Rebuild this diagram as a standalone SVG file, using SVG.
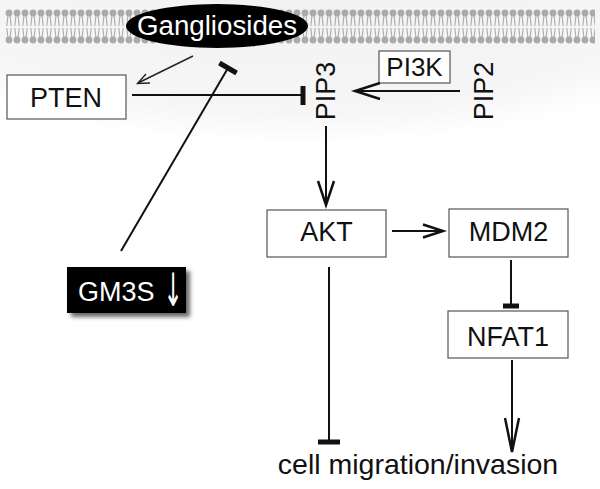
<svg xmlns="http://www.w3.org/2000/svg" width="600" height="489" viewBox="0 0 600 489">
<defs>
<style>
text{font-family:"Liberation Sans",Arial,sans-serif;font-size:27px;fill:#111}
.box{fill:#fff;stroke:#555;stroke-width:1.2}
.ln{stroke:#111;stroke-width:2;fill:none}
.bar{stroke:#111;stroke-width:5;fill:none}
.head{stroke:#111;stroke-width:2.5;fill:none;stroke-linejoin:miter}
.thin{stroke:#222;stroke-width:1.4;fill:none}
text.wt{fill:#fff}
text.arrow{font-family:"DejaVu Sans",sans-serif;font-size:27px}
</style>
<pattern id="lipid" x="5" y="8" width="8" height="38" patternUnits="userSpaceOnUse">
<g fill="#aaa" stroke="#aaa">
<circle cx="4" cy="5" r="3.4" stroke="none"/>
<circle cx="4" cy="32" r="3.4" stroke="none"/>
<path d="M3 7 L1.8 18 M5 7 L6.2 18 M1.8 20 L3 30 M6.2 20 L5 30" stroke-width="1.1" fill="none"/>
</g>
</pattern>
<radialGradient id="bg" cx="0.5" cy="0.3" r="0.6">
<stop offset="0" stop-color="#f1f1f1"/>
<stop offset="0.8" stop-color="#f6f6f6"/>
<stop offset="1" stop-color="#ffffff"/>
</radialGradient>
<filter id="shadow" x="-20%" y="-20%" width="150%" height="160%">
<feDropShadow dx="4" dy="4" stdDeviation="2" flood-color="#444" flood-opacity="0.8"/>
</filter>
</defs>
<rect width="600" height="489" fill="#fff"/>
<ellipse cx="300" cy="40" rx="380" ry="130" fill="url(#bg)"/>
<rect id="membrane" x="5" y="8" width="590" height="38" fill="url(#lipid)"/>

<g id="gangliosides">
<ellipse cx="217" cy="26" rx="91" ry="22" fill="#000"/>
<text class="wt" x="217" y="35" text-anchor="middle" style="font-size:27.7px">Gangliosides</text>
</g>
<g id="pten">
<rect class="box" x="7" y="75" width="119" height="44"/>
<text x="66" y="107" text-anchor="middle">PTEN</text>
</g>
<g id="pip3">
<text transform="translate(335,91) rotate(-90)" text-anchor="middle">PIP3</text>
</g>
<g id="pi3k">
<rect class="box" x="379" y="51" width="71" height="32"/>
<text x="414.5" y="76" text-anchor="middle" style="font-size:26px">PI3K</text>
</g>
<g id="pip2">
<text transform="translate(493,91) rotate(-90)" text-anchor="middle">PIP2</text>
</g>
<g id="akt">
<rect class="box" x="267" y="210" width="119" height="47"/>
<text x="326.5" y="241" text-anchor="middle">AKT</text>
</g>
<g id="mdm2">
<rect class="box" x="449" y="209" width="119" height="48"/>
<text x="508.5" y="241" text-anchor="middle">MDM2</text>
</g>
<g id="nfat1">
<rect class="box" x="448" y="311" width="120" height="47"/>
<text x="508" y="346" text-anchor="middle">NFAT1</text>
</g>
<g id="gm3s">
<rect x="67" y="267" width="119" height="46" fill="#000" filter="url(#shadow)"/>
<text class="wt" x="78" y="301">GM3S</text>
<text class="wt arrow" transform="translate(173,306) scale(0.85,1.7)" text-anchor="middle">↓</text>
</g>
<g id="outcome">
<text x="418" y="474" text-anchor="middle" style="font-size:28.5px">cell migration/invasion</text>
</g>

<g id="connectors">
<!-- gangliosides -> PTEN -->
<path class="thin" d="M193 56 L138 83"/>
<path class="thin" d="M146 74 L137.5 83.5 L150 83"/>
<!-- PTEN -| PIP3 -->
<path class="ln" d="M132 95 L302 95"/>
<path class="bar" d="M303 86 L303 105" stroke-width="4"/>
<!-- GM3S -| gangliosides -->
<path class="ln" d="M121 251 L228 68"/>
<path class="bar" d="M219.4 63 L236.6 73"/>
<!-- PIP2 -> PIP3 -->
<path class="ln" d="M460 91 L356 91"/>
<path class="head" d="M380 83 L355 91 L380 99"/>
<!-- PIP3 -> AKT -->
<path class="ln" d="M326 126 L326 203"/>
<path class="head" d="M318 181 L326 205 L334 181"/>
<!-- AKT -> MDM2 -->
<path class="ln" d="M392 231 L441 231"/>
<path class="head" d="M423 224.5 L443 231 L423 237.5"/>
<!-- MDM2 -| NFAT1 -->
<path class="ln" d="M511 260 L511 305"/>
<path class="bar" d="M503 306 L519 306" stroke-width="4"/>
<!-- NFAT1 -> cell migration -->
<path class="ln" d="M512 360 L512 450"/>
<path class="head" d="M505 418 L512 452 L519 418"/>
<!-- AKT -| cell migration -->
<path class="ln" d="M329 267 L329 440"/>
<path class="bar" d="M318 442 L340 442"/>
</g>
</svg>
